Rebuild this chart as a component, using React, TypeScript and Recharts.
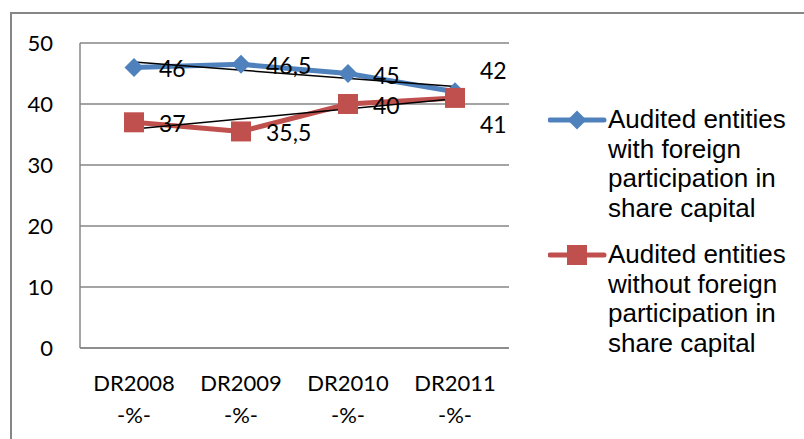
import * as React from "react";
import {
  LineChart,
  Line,
  XAxis,
  YAxis,
  CartesianGrid,
  ReferenceLine,
  LabelList
} from "recharts";

const years = ["DR2008", "DR2009", "DR2010", "DR2011"];
const withForeign = [46, 46.5, 45, 42];
const withoutForeign = [37, 35.5, 40, 41];
const yTicks = [0, 10, 20, 30, 40, 50];

// linear trend endpoints (first and last year)
const withForeignTrend = [46.9, 42.85];
const withoutForeignTrend = [35.9, 40.85];

const seriesNames = [
  ["Audited entities", "with foreign", "participation in", "share capital"],
  ["Audited entities", "without foreign", "participation in", "share capital"]
];

const BLUE = "#4F81BD";
const RED = "#C0504D";
const GRAY = "#868686";
const TICK_FONT = "Lato, 'Open Sans', sans-serif";
const LEGEND_FONT = "'Liberation Sans', Arial, sans-serif";

const data = years.map((year, i) => ({
  year,
  withForeign: withForeign[i],
  withoutForeign: withoutForeign[i]
}));

const Diamond = (props: any) => {
  const { cx, cy } = props;
  if (cx == null || cy == null) return null;
  const r = 9.5;
  return (
    <polygon
      points={`${cx},${cy - r} ${cx + r},${cy} ${cx},${cy + r} ${cx - r},${cy}`}
      fill={BLUE}
    />
  );
};

const Square = (props: any) => {
  const { cx, cy } = props;
  if (cx == null || cy == null) return null;
  return <rect x={cx - 10} y={cy - 10} width={20} height={20} fill={RED} />;
};

// value labels sit to the right of each point; the last pair is split above/below
const makeLabel = (lastDy: number) => (props: any) => {
  const { x, y, value, index } = props;
  const dy = index === years.length - 1 ? lastDy : 1;
  return (
    <text
      x={x + 25}
      y={y + dy}
      dominantBaseline="central"
      fontFamily={TICK_FONT}
      fontSize={23}
      fill="#000"
    >
      {String(value).replace(".", ",")}
    </text>
  );
};

const YearTick = (props: any) => {
  const { x, y, payload } = props;
  return (
    <text x={x} y={y} textAnchor="middle" fontFamily={TICK_FONT} fontSize={22} fill="#000">
      <tspan x={x} dy={35}>{payload.value}</tspan>
      <tspan x={x} dy={32}>-%-</tspan>
    </text>
  );
};

const LegendBlock = () => (
  <div
    style={{
      position: "absolute",
      left: 548,
      top: 105,
      fontFamily: LEGEND_FONT,
      fontSize: 26,
      lineHeight: "29.5px",
      color: "#000"
    }}
  >
    {seriesNames.map((lines, i) => (
      <div key={i} style={{ display: "flex", alignItems: "flex-start", marginBottom: 17 }}>
        <svg width={60} height={30} style={{ flex: "none" }}>
          <line x1={2} y1={15} x2={56} y2={15} stroke={i === 0 ? BLUE : RED} strokeWidth={5} strokeLinecap="round" />
          {i === 0 ? (
            <polygon points="29,5.5 38.5,15 29,24.5 19.5,15" fill={BLUE} />
          ) : (
            <rect x={19} y={5} width={20} height={20} fill={RED} />
          )}
        </svg>
        <div>
          {lines.map((l) => (
            <div key={l}>{l}</div>
          ))}
        </div>
      </div>
    ))}
  </div>
);

export default function App() {
  return (
    <div
      style={{
        position: "absolute",
        left: 0,
        top: 0,
        width: 804,
        height: 439,
        overflow: "hidden",
        background: "#fff"
      }}
    >
      <div
        style={{
          position: "absolute",
          left: 10,
          top: 12,
          width: 820,
          height: 460,
          border: `2px solid ${GRAY}`
        }}
      />
      <LineChart
        width={804}
        height={439}
        data={data}
        margin={{ top: 43, right: 295, bottom: 31, left: 0 }}
        style={{ position: "absolute", left: 0, top: 0 }}
      >
        <CartesianGrid vertical={false} stroke={GRAY} strokeWidth={1.5} />
        <XAxis
          dataKey="year"
          padding={{ left: 54, right: 54 }}
          height={60}
          tickLine={false}
          axisLine={{ stroke: GRAY, strokeWidth: 1.5 }}
          tick={<YearTick />}
          interval={0}
        />
        <YAxis
          domain={[0, 50]}
          ticks={yTicks}
          width={80}
          tickLine={false}
          tickSize={0}
          tickMargin={27}
          axisLine={{ stroke: GRAY, strokeWidth: 1.5 }}
          tick={{ fontFamily: TICK_FONT, fontSize: 22, fill: "#000" }}
        />
        <Line
          dataKey="withForeign"
          stroke={BLUE}
          strokeWidth={5}
          dot={<Diamond />}
          activeDot={false}
          isAnimationActive={false}
        >
          <LabelList dataKey="withForeign" content={makeLabel(-22)} />
        </Line>
        <Line
          dataKey="withoutForeign"
          stroke={RED}
          strokeWidth={5}
          dot={<Square />}
          activeDot={false}
          isAnimationActive={false}
        >
          <LabelList dataKey="withoutForeign" content={makeLabel(26)} />
        </Line>
        <ReferenceLine
          segment={[
            { x: years[0], y: withForeignTrend[0] },
            { x: years[years.length - 1], y: withForeignTrend[1] }
          ]}
          stroke="#000"
          strokeWidth={1.5}
        />
        <ReferenceLine
          segment={[
            { x: years[0], y: withoutForeignTrend[0] },
            { x: years[years.length - 1], y: withoutForeignTrend[1] }
          ]}
          stroke="#000"
          strokeWidth={1.5}
        />
      </LineChart>
      <LegendBlock />
    </div>
  );
}
